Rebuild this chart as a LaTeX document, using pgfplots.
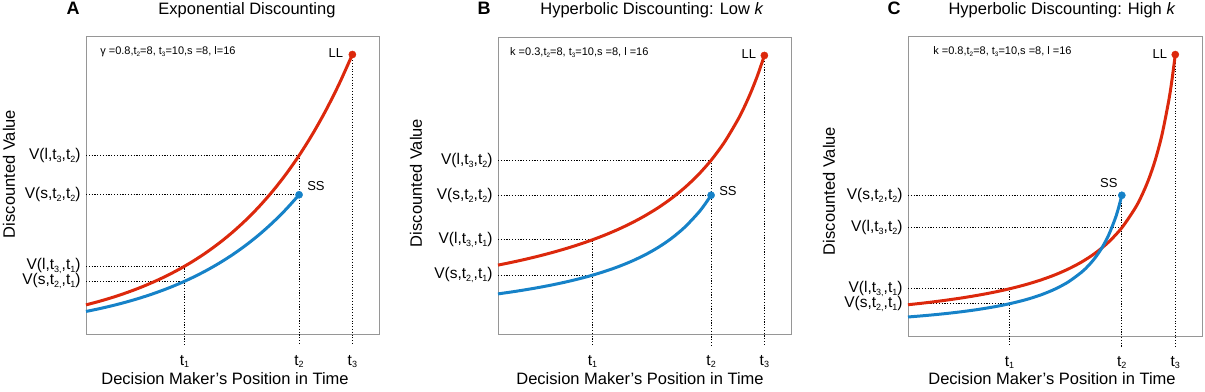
\documentclass[border=0pt]{standalone}
\usepackage{fontspec}
\setmainfont{Liberation Sans}
\usepackage{graphicx}
\usepackage{pgfplots}
\pgfplotsset{compat=1.18}
\definecolor{llred}{RGB}{220,40,12}
\definecolor{ssblue}{RGB}{22,130,200}
\definecolor{boxgray}{RGB}{150,150,150}
\newcommand{\sub}[1]{\raisebox{-0.35ex}{\scalebox{0.58}{#1}}}
\pgfplotsset{
  panel/.style={
    scale only axis, width=293pt, height=298pt,
    xmin=0, xmax=11, ymin=0, ymax=17,
    axis line style={draw=boxgray, line width=1pt},
    major tick length=0pt,
    clip=false,
    anchor=south west,
    xticklabels={t\sub{1},t\sub{2},t\sub{3}},
    ticklabel style={font=\fontsize{15.5}{18}\selectfont},
    xticklabel style={anchor=base, yshift=-30pt},
    yticklabel style={anchor=east, xshift=-2pt},
  },
  guide/.style={black, line width=1pt, dash pattern=on 1.1pt off 1.7pt},
  redc/.style={llred, line width=3pt, smooth},
  bluec/.style={ssblue, line width=3pt, smooth},
  rdot/.style={only marks, mark=*, mark size=3.6pt, llred},
  bdot/.style={only marks, mark=*, mark size=3.6pt, ssblue},
}
\newcommand{\ptext}{\fontsize{13}{15}\selectfont}
\newcommand{\note}{\fontsize{11}{13}\selectfont}
\newcommand{\lab}{\fontsize{16.5}{19}\selectfont}
\begin{document}
\begin{tikzpicture}
\useasboundingbox (0pt,0pt) rectangle (1205pt,391pt);

% ---------------- Panel A ----------------
\begin{axis}[panel, at={(86pt,56pt)},
  xtick={3.7,8,10},
  ytick={3.065,3.923,8,10.24},
  yticklabels={{V(s,t\sub{2,},t\sub{1})},{V(l,t\sub{3,},t\sub{1})},{V(s,t\sub{2},t\sub{2})},{V(l,t\sub{3},t\sub{2})}}]
\addplot[guide] coordinates {(0,10.24) (8,10.24) (8,-0.6)};
\addplot[guide] coordinates {(0,8) (8,8)};
\addplot[guide] coordinates {(0,3.923) (3.7,3.923) (3.7,-0.6)};
\addplot[guide] coordinates {(0,3.065) (3.7,3.065)};
\addplot[guide] coordinates {(10,16) (10,-0.6)};
\addplot[redc] coordinates {(0,1.718) (0.5,1.921) (1,2.147) (1.5,2.401) (2,2.684) (2.5,3.002) (3,3.355) (3.5,3.751) (4,4.194) (4.5,4.689) (5,5.243) (5.5,5.862) (6,6.554) (6.5,7.327) (7,8.192) (7.5,9.159) (8,10.24) (8.5,11.449) (9,12.8) (9.5,14.311) (10,16)};
\addplot[bluec] coordinates {(0,1.342) (0.5,1.501) (1,1.678) (1.5,1.876) (2,2.097) (2.5,2.345) (3,2.621) (3.5,2.930) (4,3.277) (4.5,3.664) (5,4.096) (5.5,4.579) (6,5.12) (6.5,5.724) (7,6.4) (7.5,7.155) (8,8)};
\addplot[rdot] coordinates {(10,16)};
\addplot[bdot] coordinates {(8,8)};
\node[anchor=east, inner sep=0pt, font=\ptext] at ([xshift=-9pt,yshift=1pt]axis cs:10,16) {LL};
\node[anchor=west, inner sep=0pt, font=\ptext] at ([xshift=8pt,yshift=9pt]axis cs:8,8) {SS};
\node[anchor=west, inner sep=0pt, font=\note] at (axis cs:0.53,16.15) {γ =0.8,t\sub{2}=8, t\sub{3}=10,s =8, l=16};
\end{axis}

% ---------------- Panel B ----------------
\begin{axis}[panel, at={(498pt,56pt)}, height=297pt,
  xtick={3.55,8,10},
  ytick={3.426,5.451,8,10},
  yticklabels={{V(s,t\sub{2,},t\sub{1})},{V(l,t\sub{3,},t\sub{1})},{V(s,t\sub{2},t\sub{2})},{V(l,t\sub{3},t\sub{2})}}]
\addplot[guide] coordinates {(0,10) (8,10) (8,-0.6)};
\addplot[guide] coordinates {(0,8) (8,8)};
\addplot[guide] coordinates {(0,5.451) (3.55,5.451) (3.55,-0.6)};
\addplot[guide] coordinates {(0,3.426) (3.55,3.426)};
\addplot[guide] coordinates {(10,16) (10,-0.6)};
\addplot[redc] coordinates {(0,4) (0.5,4.156) (1,4.324) (1.5,4.507) (2,4.706) (2.5,4.923) (3,5.161) (3.5,5.424) (4,5.714) (4.5,6.038) (5,6.4) (5.5,6.809) (6,7.273) (6.5,7.805) (7,8.421) (7.5,9.143) (8,10) (8.5,11.034) (9,12.308) (9.25,13.061) (9.5,13.913) (9.75,14.884) (10,16)};
\addplot[bluec] coordinates {(0,2.353) (0.5,2.462) (1,2.581) (1.5,2.712) (2,2.857) (2.5,3.019) (3,3.2) (3.5,3.404) (4,3.636) (4.5,3.902) (5,4.211) (5.5,4.571) (6,5) (6.5,5.517) (7,6.154) (7.5,6.957) (7.75,7.442) (8,8)};
\addplot[rdot] coordinates {(10,16)};
\addplot[bdot] coordinates {(8,8)};
\node[anchor=east, inner sep=0pt, font=\ptext] at ([xshift=-8pt,yshift=1pt]axis cs:10,16) {LL};
\node[anchor=west, inner sep=0pt, font=\ptext] at ([xshift=8pt,yshift=4pt]axis cs:8,8) {SS};
\node[anchor=west, inner sep=0pt, font=\note] at (axis cs:0.45,16.15) {k =0.3,t\sub{2}=8, t\sub{3}=10,s =8, l =16};
\end{axis}

% ---------------- Panel C ----------------
\begin{axis}[panel, at={(908pt,55pt)}, width=294pt, height=299pt,
  xtick={3.8,8,10},
  ytick={1.835,2.685,6.154,8},
  yticklabels={{V(s,t\sub{2,},t\sub{1})},{V(l,t\sub{3,},t\sub{1})},{V(l,t\sub{3},t\sub{2})},{V(s,t\sub{2},t\sub{2})}}]
\addplot[guide] coordinates {(0,8) (8,8) (8,-0.6)};
\addplot[guide] coordinates {(0,6.154) (8,6.154)};
\addplot[guide] coordinates {(0,2.685) (3.8,2.685) (3.8,-0.6)};
\addplot[guide] coordinates {(0,1.835) (3.8,1.835)};
\addplot[guide] coordinates {(10,16) (10,-0.6)};
\addplot[redc] coordinates {(0,1.778) (0.5,1.860) (1,1.951) (1.5,2.051) (2,2.162) (2.5,2.286) (3,2.424) (3.5,2.581) (4,2.759) (4.5,2.963) (5,3.2) (5.5,3.478) (6,3.810) (6.5,4.211) (7,4.706) (7.5,5.333) (8,6.154) (8.5,7.273) (8.75,8) (9,8.889) (9.25,10) (9.5,11.429) (9.75,13.333) (9.875,14.545) (10,16)};
\addplot[bluec] coordinates {(0,1.081) (0.5,1.143) (1,1.212) (1.5,1.290) (2,1.379) (2.5,1.481) (3,1.6) (3.5,1.739) (4,1.905) (4.5,2.105) (5,2.353) (5.5,2.667) (6,3.077) (6.5,3.636) (6.75,4) (7,4.444) (7.25,5) (7.5,5.714) (7.75,6.667) (7.875,7.273) (8,8)};
\addplot[rdot] coordinates {(10,16)};
\addplot[bdot] coordinates {(8,8)};
\node[anchor=east, inner sep=0pt, font=\ptext] at ([xshift=-8pt,yshift=1pt]axis cs:10,16) {LL};
\node[inner sep=0pt, font=\ptext] at ([xshift=-13pt,yshift=12pt]axis cs:8,8) {SS};
\node[anchor=west, inner sep=0pt, font=\note] at (axis cs:0.94,16.15) {k =0.8,t\sub{2}=8, t\sub{3}=10,s =8, l =16};
\end{axis}

% ---------------- titles and labels ----------------
\node[anchor=base, font=\bfseries\fontsize{18}{20}\selectfont] at (73pt,376pt) {A};
\node[anchor=base, font=\lab] at (247pt,376pt) {Exponential Discounting};
\node[anchor=base, font=\bfseries\fontsize{18}{20}\selectfont] at (484pt,376pt) {B};
\node[anchor=base, font=\lab] at (652pt,376pt) {Hyperbolic Discounting: Low \textit{k}};
\node[anchor=base, font=\bfseries\fontsize{18}{20}\selectfont] at (894pt,376pt) {C};
\node[anchor=base, font=\lab] at (1062pt,376pt) {Hyperbolic Discounting: High \textit{k}};

\node[anchor=base, font=\lab] at (225pt,6pt) {Decision Maker’s Position in Time};
\node[anchor=base, font=\lab] at (640pt,6pt) {Decision Maker’s Position in Time};
\node[anchor=base, font=\lab] at (1052pt,6pt) {Decision Maker’s Position in Time};

\node[rotate=90, font=\lab] at (9pt,217pt) {Discounted Value};
\node[rotate=90, font=\lab] at (416pt,208pt) {Discounted Value};
\node[rotate=90, font=\lab] at (829pt,200pt) {Discounted Value};
\end{tikzpicture}
\end{document}
